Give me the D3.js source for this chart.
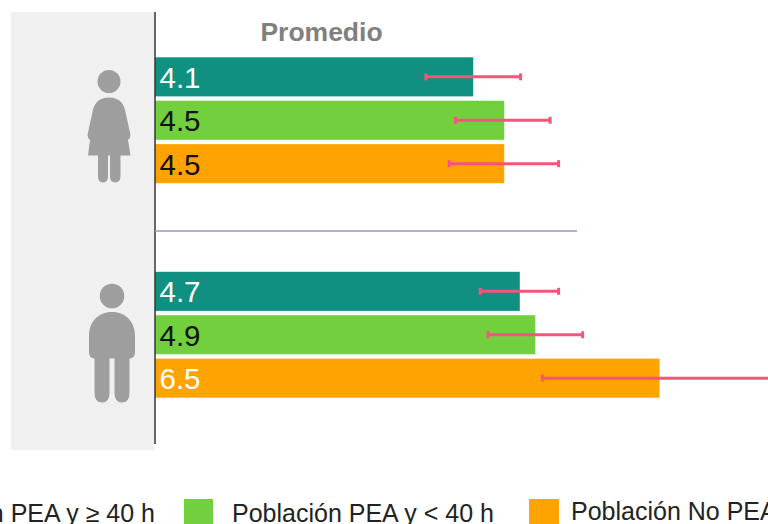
<!DOCTYPE html>
<html><head><meta charset="utf-8">
<script src="https://cdn.jsdelivr.net/npm/d3@7"></script>
<style>html,body{margin:0;padding:0;background:#fff;overflow:hidden}svg{display:block}text{font-family:"Liberation Sans",Arial,sans-serif}</style>
</head><body><svg id="c" width="768" height="524"></svg>
<script>
const seriesNames = ["Población PEA y ≥ 40 h","Población PEA y < 40 h","Población No PEA"];
const seriesColors = ["#0f9080","#72d03f","#ffa300"];
const groups = ["Mujeres","Hombres"];
const womenValues = [4.1,4.5,4.5];
const menValues = [4.7,4.9,6.5];
const womenLow = [3.49,3.87,3.79];
const womenHigh = [4.71,5.09,5.2];
const menLow = [4.19,4.29,4.99];
const menHigh = [5.2,5.51,8.1];
const labelColors = [["#fff","#111","#111"],["#fff","#111","#fff"]];

const svg = d3.select("#c");
const x = d3.scaleLinear().domain([0,6.5]).range([155,659.5]);
const yW = d3.scaleBand().domain(seriesNames).range([56,184.5]).paddingInner(0.1).paddingOuter(0.03);
const yM = d3.scaleBand().domain(seriesNames).range([270.5,399]).paddingInner(0.1).paddingOuter(0.03);

svg.append("rect").attr("x",11).attr("y",12).attr("width",143).attr("height",438).attr("fill","#f0f0f0");

const data = [
 {y:yW,v:womenValues,lo:womenLow,hi:womenHigh,lc:labelColors[0]},
 {y:yM,v:menValues,lo:menLow,hi:menHigh,lc:labelColors[1]}
];
data.forEach(g=>{
  seriesNames.forEach((s,i)=>{
    const by=g.y(s), bh=g.y.bandwidth(), cy=by+bh/2;
    svg.append("rect").attr("x",x(0)).attr("y",by).attr("width",x(g.v[i])-x(0)).attr("height",bh).attr("fill",seriesColors[i]);
    svg.append("text").attr("x",159.5).attr("y",cy+11).attr("font-size",29.5).attr("fill",g.lc[i]).text(g.v[i].toFixed(1));
  });
});
data.forEach(g=>{
  seriesNames.forEach((s,i)=>{
    const cy=g.y(s)+g.y.bandwidth()/2;
    const e="#f5557a";
    svg.append("line").attr("x1",x(g.lo[i])).attr("x2",x(g.hi[i])).attr("y1",cy).attr("y2",cy).attr("stroke",e).attr("stroke-width",3);
    [g.lo[i],g.hi[i]].forEach(d=>svg.append("line").attr("x1",x(d)).attr("x2",x(d)).attr("y1",cy-3.5).attr("y2",cy+3.5).attr("stroke",e).attr("stroke-width",3));
  });
});

svg.append("line").attr("x1",155).attr("x2",155).attr("y1",12).attr("y2",444).attr("stroke","#333").attr("stroke-width",1.5);
svg.append("line").attr("x1",155).attr("x2",577).attr("y1",231).attr("y2",231).attr("stroke","#a98bd8").attr("stroke-width",1.5);

svg.append("text").attr("x",321.5).attr("y",41).attr("text-anchor","middle").attr("font-size",26.5).attr("font-weight","bold").attr("fill","#808080").text("Promedio");

const icon="#9e9e9e";
// woman
svg.append("circle").attr("cx",109).attr("cy",81.5).attr("r",11.5).attr("fill",icon);
svg.append("path").attr("fill",icon).attr("d","M109 97.5C98 97.5 94 104 92.5 112L87.5 135Q87.5 138 90 140L88 155.5H98V176Q98 182.5 103 182.5Q108 182.5 108 176V155.5H110V176Q110 182.5 115 182.5Q120.5 182.5 120.5 176V155.5H130.5L128 140Q130.5 138 130.5 135L125.5 112C124 104 120 97.5 109 97.5Z");
// man
svg.append("circle").attr("cx",112).attr("cy",296).attr("r",12.3).attr("fill",icon);
svg.append("path").attr("fill",icon).attr("d","M112 312C98 312 89 322 89 336V352Q89 358 94.5 358.5V393Q94.5 402.5 102 402.5Q109.5 402.5 109.5 393V358.5H114.5V393Q114.5 402.5 122 402.5Q129.5 402.5 129.5 393V358.5Q135 358 135 352V336C135 322 126 312 112 312Z");

const legX=[-9,184,529];
const legendText=[155,232,571];
seriesNames.forEach((s,i)=>{
  if(i>0) svg.append("rect").attr("x",legX[i]).attr("y",499).attr("width",i==1?29:30).attr("height",30).attr("fill",seriesColors[i]);
  const t=svg.append("text").attr("y",i==2?520:522).attr("font-size",25).attr("fill","#222").text(s);
  if(i==0) t.attr("x",legendText[0]).attr("text-anchor","end"); else t.attr("x",legendText[i]);
});
</script></body></html>
